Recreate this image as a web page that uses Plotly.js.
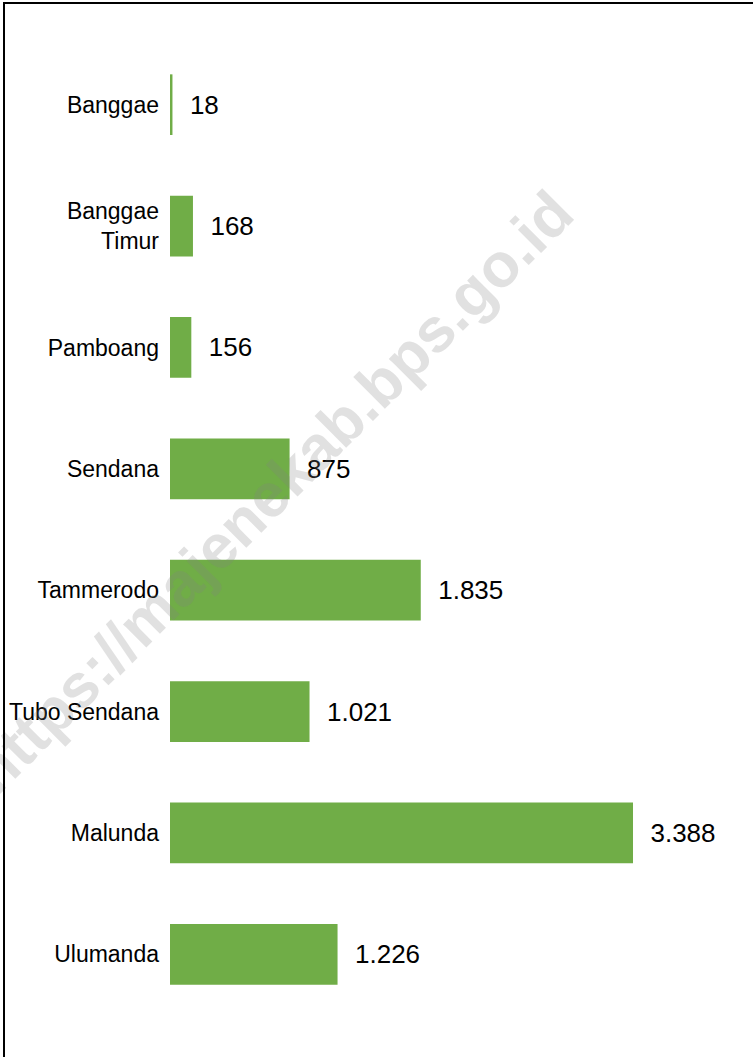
<!DOCTYPE html>
<html>
<head>
<meta charset="utf-8">
<script src="https://cdn.plot.ly/plotly-3.0.1.min.js"></script>
<style>
  html, body { margin: 0; padding: 0; background: #fff; }
  #wrap { position: relative; width: 753px; height: 1057px; overflow: hidden; }
  #chart { width: 753px; height: 1057px; }
  #frame { position: absolute; left: 3px; top: 2px; width: 760px; height: 1070px;
           border-left: 2px solid #000; border-top: 2px solid #000; pointer-events: none; }
</style>
</head>
<body>
<div id="wrap">
  <div id="chart"></div>
  <div id="frame"></div>
</div>
<script>
// Data
const districts = ["Banggae", "Banggae<br>Timur", "Pamboang", "Sendana", "Tammerodo", "Tubo Sendana", "Malunda", "Ulumanda"];
const values = [18, 168, 156, 875, 1835, 1021, 3388, 1226];
const watermark = "https://majenekab.bps.go.id";

const trace = {
  type: "bar",
  orientation: "h",
  y: districts,
  x: values,
  marker: { color: "#70AD47" },
  texttemplate: "\u00a0\u00a0%{x:,}",
  textposition: "outside",
  cliponaxis: false,
  textfont: { family: "Liberation Sans, Arial, sans-serif", size: 26, color: "#000" },
  hoverinfo: "none"
};

const layout = {
  width: 753,
  height: 1057,
  margin: { l: 170, r: 0, t: 44, b: 42 },
  paper_bgcolor: "#fff",
  plot_bgcolor: "#fff",
  separators: ",.",
  bargap: 0.5,
  showlegend: false,
  font: { family: "Liberation Sans, Arial, sans-serif", color: "#000" },
  xaxis: { range: [0, 4266], visible: false, fixedrange: true },
  yaxis: {
    autorange: "reversed",
    showgrid: false, zeroline: false, showline: false,
    ticks: "", ticklabelstandoff: 10,
    tickfont: { size: 23, color: "#000", weight: "normal" },
    fixedrange: true
  },
  annotations: [{
    text: watermark,
    xref: "paper", yref: "paper",
    x: 0.175, y: 0.539,
    xanchor: "center", yanchor: "middle",
    showarrow: false,
    textangle: -45,
    font: { family: "Liberation Sans, Arial, sans-serif", size: 62, color: "rgba(128,128,128,0.24)", weight: "bold" }
  }]
};

Plotly.newPlot("chart", [trace], layout, { displayModeBar: false, staticPlot: true });
</script>
</body>
</html>
